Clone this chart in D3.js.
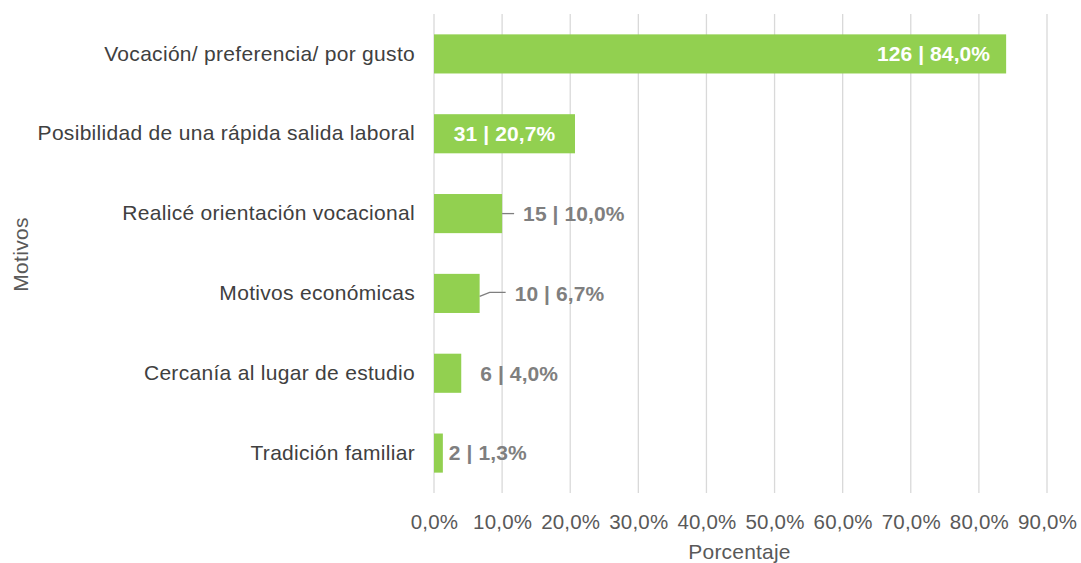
<!DOCTYPE html>
<html>
<head>
<meta charset="utf-8">
<script src="https://cdn.jsdelivr.net/npm/d3@7"></script>
<style>
  body { margin: 0; background: #fff; }
  text { font-family: "Liberation Sans", Arial, sans-serif; }
</style>
</head>
<body>
<svg id="chart" width="1081" height="563"></svg>
<script>
const motivos = [
  'Vocación/ preferencia/ por gusto',
  'Posibilidad de una rápida salida laboral',
  'Realicé orientación vocacional',
  'Motivos económicas',
  'Cercanía al lugar de estudio',
  'Tradición familiar'
];
const cantidades = [126, 31, 15, 10, 6, 2];
const porcentajes = [84.0, 20.7, 10.0, 6.7, 4.0, 1.3];
const ticks = [0, 10, 20, 30, 40, 50, 60, 70, 80, 90];

const svg = d3.select('#chart');
const margin = {top: 14, right: 34, bottom: 70, left: 434};
const width = +svg.attr('width') - margin.left - margin.right;
const height = +svg.attr('height') - margin.top - margin.bottom;

const data = motivos.map((m, i) => ({m, n: cantidades[i], p: porcentajes[i]}));
const fmt = v => v.toFixed(1).replace('.', ',');

const x = d3.scaleLinear().domain([0, 90]).range([0, width]);
const y = d3.scaleBand().domain(motivos).range([0, height]).paddingInner(0.51).paddingOuter(0.255);

const g = svg.append('g').attr('transform', `translate(${margin.left},${margin.top})`);

// gridlines
g.selectAll('line.grid').data(ticks).enter().append('line')
  .attr('class', 'grid')
  .attr('x1', d => x(d)).attr('x2', d => x(d))
  .attr('y1', 0).attr('y2', height)
  .attr('stroke', '#d9d9d9').attr('stroke-width', 1.3);

// x axis labels
const xAxis = d3.axisBottom(x).tickValues(ticks).tickSize(0).tickPadding(21)
  .tickFormat(d => fmt(d) + '%');
g.append('g').attr('transform', `translate(0,${height})`).call(xAxis)
  .call(a => a.select('.domain').remove())
  .selectAll('text').attr('font-size', 20.5).attr('fill', '#595959')
  .style('letter-spacing', '0.2px')
  .style('font-family', '"Liberation Sans", Arial, sans-serif');

// y axis labels
const yAxis = d3.axisLeft(y).tickSize(0).tickPadding(19);
g.append('g').call(yAxis)
  .call(a => a.select('.domain').remove())
  .selectAll('text').attr('font-size', 21).attr('fill', '#404040')
  .style('letter-spacing', '0.3px')
  .style('font-family', '"Liberation Sans", Arial, sans-serif');

// bars
g.selectAll('rect.bar').data(data).enter().append('rect')
  .attr('class', 'bar')
  .attr('x', 0)
  .attr('y', d => y(d.m))
  .attr('width', d => x(d.p))
  .attr('height', y.bandwidth())
  .attr('fill', '#92d050');

// label layout: 'end' inside, 'mid' inside centered, otherwise offset outside (px)
const labelPos = ['end', 'mid', 21, 35, 19, 6];

g.selectAll('text.val').data(data).enter().append('text')
  .attr('class', 'val')
  .attr('font-size', 21)
  .attr('font-weight', 'bold')
  .style('letter-spacing', '0.1px')
  .attr('dy', '0.35em')
  .attr('y', d => y(d.m) + y.bandwidth() / 2)
  .attr('x', (d, i) => {
    const pos = labelPos[i];
    if (pos === 'end') return x(d.p) - 16;
    if (pos === 'mid') return x(d.p) / 2;
    return x(d.p) + pos;
  })
  .attr('text-anchor', (d, i) => labelPos[i] === 'end' ? 'end' : labelPos[i] === 'mid' ? 'middle' : 'start')
  .attr('fill', (d, i) => typeof labelPos[i] === 'string' ? '#ffffff' : '#7f7f7f')
  .text(d => `${d.n} | ${fmt(d.p)}%`);

// leader lines for labels sitting away from their bar
[2, 3].forEach(i => {
  const d = data[i];
  const cy = y(d.m) + y.bandwidth() / 2;
  const x0 = x(d.p);
  const x1 = x0 + labelPos[i] - 9;
  g.append('path')
    .attr('d', i === 3
      ? `M${x0},${cy + 3} L${x0 + 10},${cy - 1} L${x1},${cy - 1}`
      : `M${x0},${cy} L${x1},${cy}`)
    .attr('fill', 'none')
    .attr('stroke', '#7f7f7f')
    .attr('stroke-width', 1.3);
});

// axis titles
svg.append('text')
  .attr('x', margin.left + width / 2 - 1).attr('y', 559)
  .attr('text-anchor', 'middle').attr('font-size', 21).attr('fill', '#595959')
  .style('letter-spacing', '0.2px')
  .text('Porcentaje');

svg.append('text')
  .attr('transform', `translate(28,${margin.top + height / 2 + 1}) rotate(-90)`)
  .attr('text-anchor', 'middle').attr('font-size', 21).attr('fill', '#595959')
  .style('letter-spacing', '0.3px')
  .text('Motivos');
</script>
</body>
</html>
